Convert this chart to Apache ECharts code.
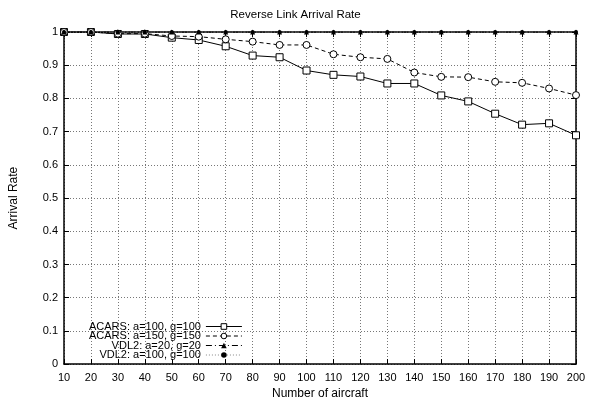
<!DOCTYPE html>
<html>
<head>
<meta charset="utf-8">
<script src="https://cdn.jsdelivr.net/npm/echarts@6/dist/echarts.min.js"></script>
<style>
  html, body { margin: 0; padding: 0; background: #fff; }
  #chart { width: 591px; height: 405px; }
</style>
</head>
<body>
<div id="chart"></div>
<script>
  // number of aircraft
  var aircraft = [10, 20, 30, 40, 50, 60, 70, 80, 90, 100, 110, 120, 130, 140, 150, 160, 170, 180, 190, 200]
  var acarsA100 = [1.0, 1.0, 0.994, 0.994, 0.983, 0.976, 0.957, 0.929, 0.924, 0.884, 0.871, 0.866, 0.845, 0.845, 0.809, 0.791, 0.754, 0.721, 0.725, 0.689]
  var acarsA150 = [1.0, 1.0, 0.995, 0.995, 0.988, 0.986, 0.978, 0.971, 0.961, 0.961, 0.933, 0.924, 0.919, 0.878, 0.865, 0.864, 0.850, 0.847, 0.830, 0.810]
  var vdl2A20 = [1, 1, 1, 1, 1, 1, 1, 1, 1, 1, 1, 1, 1, 1, 1, 1, 1, 1, 1, 1]
  var vdl2A100 = [1, 1, 1, 1, 1, 1, 1, 1, 1, 1, 1, 1, 1, 1, 1, 1, 1, 1, 1, 1]

  var FONT = '"Liberation Sans", Arial, sans-serif'

  function pairs (ys) {
    return aircraft.map(function (x, i) { return [x, ys[i]] })
  }

  var chart = echarts.init(document.getElementById('chart'))

  var gridLine = {show: true, lineStyle: {color: '#777', type: [1, 2], width: 1}}
  var frameLine = {show: true, onZero: false, lineStyle: {color: '#000', width: 1.5}}
  var tickIn = {show: true, inside: true, length: 5, lineStyle: {color: '#000'}}

  chart.setOption({
    animation: false,
    textStyle: {fontFamily: FONT},
    title: {
      text: 'Reverse Link Arrival Rate',
      left: 'center',
      top: 4,
      textStyle: {fontSize: 11.5, fontWeight: 'normal', color: '#000', fontFamily: FONT}
    },
    grid: {left: 64, right: 15, top: 32, bottom: 36},
    legend: {
      orient: 'vertical',
      left: 84,
      top: 316,
      align: 'right',
      itemWidth: 36,
      itemHeight: 7,
      itemGap: -1.5,
      textStyle: {fontSize: 11, lineHeight: 9, color: '#000', fontFamily: FONT},
      itemStyle: {borderWidth: 1},
      lineStyle: {width: 1},
      data: ['ACARS: a=100, g=100', 'ACARS: a=150, g=150', 'VDL2: a=20, g=20', 'VDL2: a=100, g=100']
    },
    xAxis: [{
      type: 'value',
      min: 10,
      max: 200,
      interval: 10,
      name: 'Number of aircraft',
      nameLocation: 'middle',
      nameGap: 22,
      nameTextStyle: {fontSize: 12, color: '#000'},
      axisLine: frameLine,
      axisTick: tickIn,
      axisLabel: {fontSize: 11, color: '#000', margin: 8},
      splitLine: gridLine
    }, {
      type: 'value',
      position: 'top',
      min: 10,
      max: 200,
      interval: 10,
      axisLine: frameLine,
      axisTick: tickIn,
      axisLabel: {show: false},
      splitLine: {show: false}
    }],
    yAxis: [{
      type: 'value',
      min: 0,
      max: 1,
      interval: 0.1,
      name: 'Arrival Rate',
      nameLocation: 'middle',
      nameGap: 44,
      nameTextStyle: {fontSize: 12, color: '#000'},
      axisLine: frameLine,
      axisTick: tickIn,
      axisLabel: {fontSize: 11, color: '#000', margin: 6},
      splitLine: gridLine
    }, {
      type: 'value',
      position: 'right',
      min: 0,
      max: 1,
      interval: 0.1,
      axisLine: frameLine,
      axisTick: tickIn,
      axisLabel: {show: false},
      splitLine: {show: false}
    }],
    series: [
      {
        name: 'ACARS: a=100, g=100',
        type: 'line',
        data: pairs(acarsA100),
        symbol: 'rect',
        symbolSize: 7,
        itemStyle: {color: '#fff', borderColor: '#000', borderWidth: 1},
        lineStyle: {color: '#000', width: 1, type: 'solid'},
        z: 3
      },
      {
        name: 'ACARS: a=150, g=150',
        type: 'line',
        data: pairs(acarsA150),
        symbol: 'circle',
        symbolSize: 7,
        itemStyle: {color: '#fff', borderColor: '#000', borderWidth: 1},
        lineStyle: {color: '#000', width: 1, type: [4, 3]},
        z: 3
      },
      {
        name: 'VDL2: a=20, g=20',
        type: 'line',
        data: pairs(vdl2A20),
        symbol: 'triangle',
        symbolSize: 5,
        itemStyle: {color: '#000'},
        lineStyle: {color: '#000', width: 1, type: [6, 3, 1, 3]},
        z: 4
      },
      {
        name: 'VDL2: a=100, g=100',
        type: 'line',
        data: pairs(vdl2A100),
        symbol: 'circle',
        symbolSize: 4,
        itemStyle: {color: '#000'},
        lineStyle: {color: '#888', width: 1, type: [1, 2]},
        z: 4
      }
    ]
  })
</script>
</body>
</html>
